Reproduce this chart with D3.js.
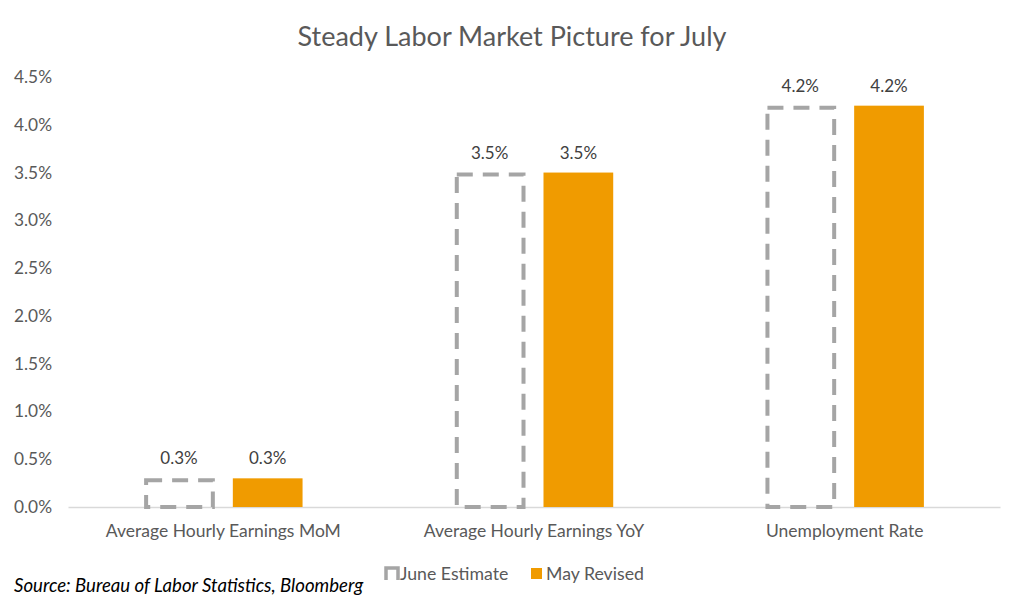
<!DOCTYPE html>
<html><head><meta charset="utf-8">
<script src="https://cdn.jsdelivr.net/npm/d3@7"></script>
<style>body{margin:0;background:#fff}svg{display:block}text{font-family:Lato,"Open Sans",sans-serif}</style>
</head><body><svg id="c" width="1024" height="605"></svg>
<script>
const categories = ["Average Hourly Earnings MoM", "Average Hourly Earnings YoY", "Unemployment Rate"];
const juneEstimate = [0.3, 3.5, 4.2];
const mayRevised = [0.3, 3.5, 4.2];
const seriesNames = ["June Estimate", "May Revised"];
const yTicks = [0, 0.5, 1.0, 1.5, 2.0, 2.5, 3.0, 3.5, 4.0, 4.5];
const title = "Steady Labor Market Picture for July";
const source = "Source: Bureau of Labor Statistics, Bloomberg";

const svg = d3.select("#c");
const m = {l: 68, r: 24, t: 77, b: 98};
const W = 1024, H = 605;
const x0 = d3.scaleBand().domain(categories).range([m.l, W - m.r]).paddingInner(0).paddingOuter(0);
const y = d3.scaleLinear().domain([0, 4.5]).range([H - m.b, m.t]);
const groupW = x0.bandwidth() * 0.51;
const x1 = d3.scaleBand().domain(seriesNames).range([0, groupW]).paddingInner(0.214);

const grey = "#A5A5A5", orange = "#F09B00", txt = "#595959";
const fs = 17.3;

svg.append("text").attr("x", 512).attr("y", 46).attr("text-anchor", "middle")
  .attr("font-size", 27).attr("fill", txt).text(title);

// y axis labels
const ya = svg.append("g").attr("transform", `translate(${m.l},0)`)
  .call(d3.axisLeft(y).tickValues(yTicks).tickSize(0).tickPadding(16).tickFormat(d => d.toFixed(1) + "%"));
ya.select(".domain").remove();
ya.selectAll("text").attr("font-size", fs).attr("fill", txt).attr("font-family", "Lato").attr("x", -16).attr("text-anchor", "end");

// x axis
const xa = svg.append("g").attr("transform", `translate(0,${y(0)})`)
  .call(d3.axisBottom(x0).tickSize(0).tickPadding(18));
xa.select(".domain").attr("stroke", "#D9D9D9").attr("stroke-width", 1.3);
xa.selectAll("text").attr("font-size", 17.5).attr("fill", txt).attr("font-family", "Lato");

const groups = svg.append("g").selectAll("g").data(categories).join("g")
  .attr("transform", d => `translate(${x0(d) + (x0.bandwidth() - groupW) / 2},0)`);

// June (dashed outline)
groups.append("rect")
  .attr("x", (d, i) => x1("June Estimate") + 2)
  .attr("y", (d, i) => y(juneEstimate[i]) + 2)
  .attr("width", x1.bandwidth() - 3)
  .attr("height", (d, i) => y(0) - y(juneEstimate[i]) - 2)
  .attr("fill", "none").attr("stroke", grey).attr("stroke-width", 4)
  .attr("stroke-dasharray", "16,10");

// May (solid)
groups.append("rect")
  .attr("x", x1("May Revised"))
  .attr("y", (d, i) => y(mayRevised[i]))
  .attr("width", x1.bandwidth())
  .attr("height", (d, i) => y(0) - y(mayRevised[i]))
  .attr("fill", orange);

// labels
groups.append("text")
  .attr("x", x1("June Estimate") + x1.bandwidth() / 2)
  .attr("y", (d, i) => y(juneEstimate[i]) - 14)
  .attr("text-anchor", "middle").attr("font-size", 17).attr("fill", "#404040")
  .text((d, i) => juneEstimate[i].toFixed(1) + "%");
groups.append("text")
  .attr("x", x1("May Revised") + x1.bandwidth() / 2)
  .attr("y", (d, i) => y(mayRevised[i]) - 14)
  .attr("text-anchor", "middle").attr("font-size", 17).attr("fill", "#404040")
  .text((d, i) => mayRevised[i].toFixed(1) + "%");

// legend
const lg = svg.append("g");
lg.append("path").attr("d", "M386,580 V568 H398 V580").attr("fill", "none").attr("stroke", grey).attr("stroke-width", 3.5);
lg.append("text").attr("x", 400).attr("y", 580).attr("font-size", 17.7).attr("fill", txt).text(seriesNames[0]);
lg.append("rect").attr("x", 531).attr("y", 568).attr("width", 11).attr("height", 11).attr("fill", orange);
lg.append("text").attr("x", 546).attr("y", 580).attr("font-size", 17.7).attr("fill", txt).text(seriesNames[1]);

svg.append("text").attr("x", 14).attr("y", 592).attr("font-size", 18.6).attr("font-style", "italic")
  .attr("fill", "#000").text(source);
</script></body></html>
